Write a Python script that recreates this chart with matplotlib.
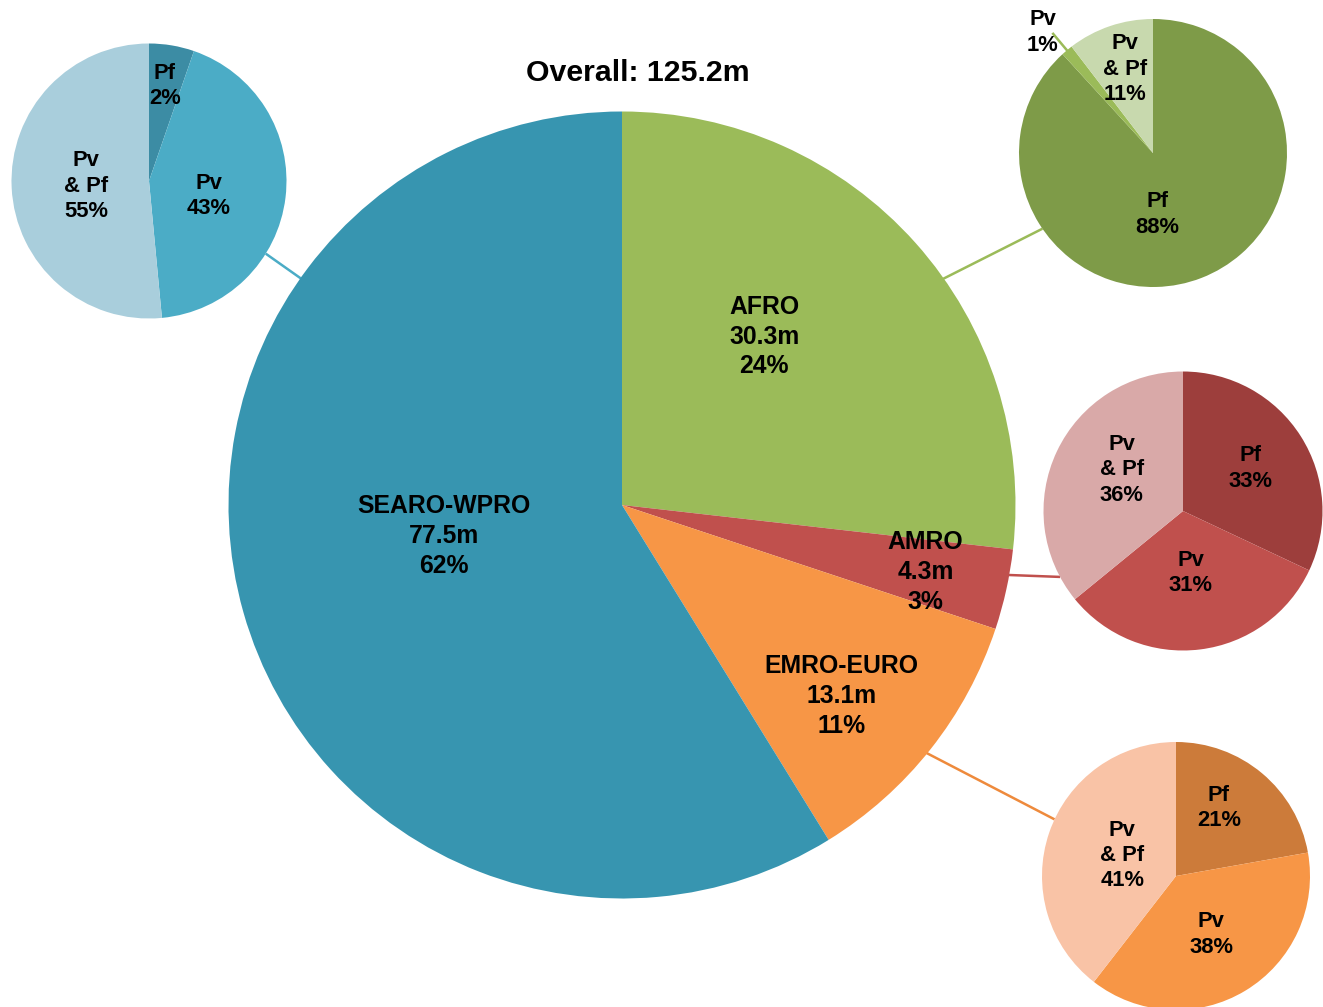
import numpy as np
import matplotlib
matplotlib.use('Agg')
import matplotlib.pyplot as plt

plt.rcParams['font.family'] = ['Liberation Sans', 'DejaVu Sans']

# overall split by region (clockwise from 12 o'clock)
regions = ['AFRO', 'AMRO', 'EMRO-EURO', 'SEARO-WPRO']
cases_m = [30.3, 4.3, 13.1, 77.5]
region_pct = [24, 3, 11, 62]
# wedge sizes as they are drawn in the picture (they don't quite match the printed %)
region_share = [26.8, 3.3, 11.1, 58.8]
total_m = 125.2

# species split per region, order Pf, Pv, Pv & Pf
species = ['Pf', 'Pv', 'Pv\n& Pf']
searo_pct = [2, 43, 55]
searo_share = [5.3, 43.2, 51.5]
afro_pct = [88, 1, 11]
afro_share = [88.2, 1.4, 10.4]
amro_pct = [33, 31, 36]
amro_share = [32.0, 32.1, 35.9]
emro_pct = [21, 38, 41]
emro_share = [22.2, 38.3, 39.5]

fig = plt.figure(figsize=(13.23, 10.07), dpi=100)
ax = fig.add_axes([0, 0, 1, 1])


def polar(center, radius, ang):
    a = np.deg2rad(ang)
    return center[0] + radius * np.cos(a), center[1] + radius * np.sin(a)


def draw_pie(shares, center, radius, colors):
    wedges, _ = ax.pie(shares, colors=colors, startangle=90, counterclock=False,
                       center=center, radius=radius,
                       wedgeprops=dict(linewidth=0, antialiased=True))
    return wedges


def put_labels(wedges, texts, center, radius, rfrac, nudge, size, ls):
    for w, t, rf, dn in zip(wedges, texts, rfrac, nudge):
        mid = (w.theta1 + w.theta2) / 2 + dn
        x, y = polar(center, radius * rf, mid)
        ax.text(x, y, t, ha='center', va='center', fontsize=size,
                fontweight='bold', color='black', linespacing=ls)


# main pie
main_c = (622, 502)
main_r = 393.5
main_cols = ['#9BBB59', '#C0504D', '#F79646', '#3795B0']
w_main = draw_pie(region_share, main_c, main_r, main_cols)
main_txt = [f'{n}\n{v}m\n{p}%' for n, v, p in zip(regions, cases_m, region_pct)]
put_labels(w_main, main_txt, main_c, main_r,
           [0.56, 0.79, 0.74, 0.46], [8, 0, -2.7, -6], 17.8, 1.3)

ax.text(638, 934, f'Overall: {total_m}m', ha='center', va='center',
        fontsize=21.8, fontweight='bold')

# small pies: data, centre, radius, colours, label radii, angle nudges,
# connector angle on main pie, connector angle on small pie, connector colour
small = [
    (searo_share, searo_pct, (149, 826), 137.5,
     ['#3C8CA4', '#4BACC6', '#A9CEDC'], [0.70, 0.45, 0.46], [0, -7, 2],
     144.8, -31.9, '#4BACC6'),
    (afro_share, afro_pct, (1153, 854), 134,
     ['#7E9B48', '#9BBB59', '#C8D9AE'], [0.46, 1.22, 0.66], [-17, 2.5, 0],
     35.4, 214.4, '#9BBB59'),
    (amro_share, amro_pct, (1183, 496), 139.5,
     ['#9D3E3C', '#C0504D', '#D9A9A8'], [0.57, 0.45, 0.53], [0, 0, -8.5],
     -10.5, 208.2, '#C0504D'),
    (emro_share, emro_pct, (1176, 131), 134,
     ['#CC7B3A', '#F79646', '#F9C3A6'], [0.60, 0.51, 0.43], [7.7, 0, -2],
     -39.5, 155, '#EE8A3C'),
]

for shares, pcts, c, r, cols, rf, dn, a_main, a_small, lc in small:
    x0, y0 = polar(main_c, main_r * 0.97, a_main)
    x1, y1 = polar(c, r, a_small)
    ax.plot([x0, x1], [y0, y1], color=lc, lw=1.8, solid_capstyle='butt', zorder=0.5)
    ws = draw_pie(shares, c, r, cols)
    txt = [f'{s}\n{p}%' for s, p in zip(species, pcts)]
    put_labels(ws, txt, c, r, rf, dn, 15.8, 1.27)
    if shares is afro_share:
        # leader line for the thin Pv slice
        mid = (ws[1].theta1 + ws[1].theta2) / 2
        xa, ya = polar(c, r * 1.0, mid)
        xb, yb = polar(c, r * 1.16, mid)
        ax.plot([xa, xb], [ya, yb], color='#9BBB59', lw=1.8)

ax.set_xlim(0, 1323)
ax.set_ylim(0, 1007)
ax.set_aspect('equal')
ax.axis('off')

fig.savefig('out.png', dpi=100, facecolor='white')
